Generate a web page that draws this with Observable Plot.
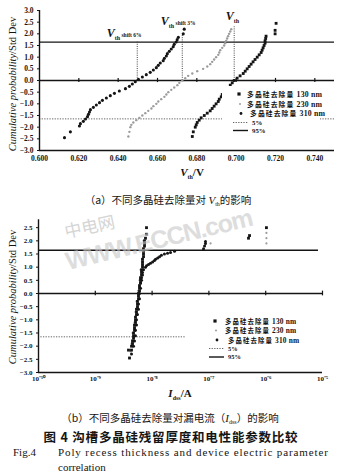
<!DOCTYPE html>
<html><head><meta charset="utf-8">
<script src="https://cdn.jsdelivr.net/npm/d3@7"></script>
<script src="https://cdn.jsdelivr.net/npm/@observablehq/plot@0.6"></script>
<style>
html,body{margin:0;padding:0;background:#fff;}
#root{position:relative;width:340px;height:475px;overflow:hidden;font-family:"Liberation Serif",serif;color:#111;}
#root svg{position:absolute;left:0;}
</style></head><body><div id="root"></div>
<script>
// ---------- DATA ----------
const seriesLabels = ["多晶硅去除量 130 nm", "多晶硅去除量 230 nm", "多晶硅去除量 310 nm"];
const refLabels = ["5%", "95%"];
const refLevels = [-1.645, 1.645];

// Panel (a): Vth (V) vs cumulative probability (Std Dev)
const zA310 = [-2.45,-2.2,-1.95,-1.85,-1.75,-1.65,-1.55,-1.45,-1.35,-1.25,-1.15,-1.05,-0.95,-0.85,-0.75,-0.65,-0.55,-0.45,-0.35,-0.25,-0.15,-0.05,0.05,0.15,0.25,0.35,0.45,0.55,0.65,0.75,0.85,0.95,1.05,1.15,1.25,1.35,1.45,1.55,1.65,1.75,1.85,2.0,2.2];
const vA310 = [0.6127,0.6157,0.6203,0.6208,0.6223,0.6234,0.6244,0.6249,0.6254,0.6259,0.6274,0.6289,0.6305,0.6320,0.6340,0.6360,0.6381,0.6406,0.6437,0.6457,0.6472,0.6487,0.6503,0.6523,0.6543,0.6563,0.6579,0.6594,0.6604,0.6614,0.6629,0.6635,0.6645,0.6650,0.6660,0.6670,0.6680,0.6685,0.6695,0.6700,0.6706,0.6731,0.6736];

const zA230 = [-2.4,-2.2,-2.0,-1.9,-1.8,-1.7,-1.6,-1.5,-1.4,-1.3,-1.2,-1.1,-1.0,-0.9,-0.8,-0.7,-0.6,-0.5,-0.4,-0.3,-0.2,-0.1,0,0.1,0.2,0.3,0.4,0.5,0.6,0.7,0.8,0.9,1.0,1.1,1.2,1.3,1.4,1.5,1.6,1.7,1.8,1.9,2.0,2.1,2.2];
const vA230 = [0.6452,0.6457,0.6462,0.6467,0.6477,0.6492,0.6508,0.6523,0.6538,0.6553,0.6569,0.6579,0.6594,0.6604,0.6619,0.6635,0.6645,0.6655,0.6670,0.6685,0.6701,0.6711,0.6726,0.6741,0.6756,0.6777,0.6802,0.6832,0.6853,0.6868,0.6878,0.6888,0.6898,0.6909,0.6914,0.6919,0.6929,0.6939,0.6944,0.6949,0.6954,0.6959,0.6964,0.6970,0.6975];

const zA130 = [-2.4,-2.2,-2.0,-1.9,-1.8,-1.7,-1.6,-1.5,-1.4,-1.3,-1.2,-1.1,-1.0,-0.9,-0.8,-0.7,-0.6,-0.5,-0.4,-0.3,-0.2,-0.1,0,0.1,0.2,0.3,0.4,0.5,0.6,0.7,0.8,0.9,1.0,1.1,1.2,1.3,1.4,1.5,1.6,1.7,1.8,1.9,2.0,2.15,2.45];
const vA130 = [0.6777,0.6782,0.6792,0.6797,0.6802,0.6812,0.6822,0.6838,0.6853,0.6868,0.6878,0.6888,0.6898,0.6909,0.6914,0.6924,0.6929,0.6939,0.6949,0.6959,0.6970,0.6980,0.6990,0.7005,0.7020,0.7036,0.7046,0.7056,0.7066,0.7076,0.7086,0.7096,0.7107,0.7117,0.7127,0.7132,0.7137,0.7142,0.7147,0.7147,0.7150,0.7152,0.7198,0.7198,0.7203];

// Vth markers (dotted drop lines) and their labels
const vthValues = [0.6497, 0.6726, 0.6990];
const vthTops = [1.645, 2.0, 2.3];
const vthSubs = ["th  shift 6%", "th  shift 3%", "th"];

const xTicksA = [0.60,0.62,0.64,0.66,0.68,0.70,0.72,0.74];
const yTicks = [-3,-2.5,-2,-1.5,-1,-0.5,0,0.5,1,1.5,2,2.5,3];

// Panel (b): Idss (A) vs cumulative probability
const zB130 = [-2.45,-2.15,-2.15,-2.0,-1.9,-1.8,-1.7,-1.6,-1.5,-1.4,-1.3,-1.2,-1.1,-1.0,-0.9,-0.8,-0.7,-0.6,-0.5,-0.4,-0.3,-0.2,-0.1,0,0.1,0.2,0.3,0.4,0.5,0.6,0.7,0.8,0.9,1.0,1.1,1.2,1.3,1.4,1.5,1.6,1.7,1.8,1.9,2.0,2.1,2.25,2.5,2.1,2.2,2.5];
const iB130 = [4.00e-9,3.84e-9,4.34e-9,4.34e-9,4.52e-9,4.52e-9,4.71e-9,4.71e-9,4.71e-9,4.90e-9,4.90e-9,4.90e-9,5.10e-9,5.10e-9,5.10e-9,5.31e-9,5.31e-9,5.31e-9,5.53e-9,5.53e-9,5.53e-9,5.76e-9,5.76e-9,5.76e-9,6.00e-9,6.00e-9,6.00e-9,6.25e-9,6.25e-9,6.25e-9,6.51e-9,6.51e-9,6.51e-9,6.78e-9,6.78e-9,6.78e-9,6.78e-9,7.06e-9,7.06e-9,7.06e-9,7.06e-9,7.35e-9,7.35e-9,7.35e-9,7.65e-9,7.97e-9,7.97e-9,4.98e-7,5.19e-7,1.03e-6];

const zB230 = [-2.2,-1.9,-1.5,-1.1,-0.7,-0.3,0.1,0.5,0.9,1.3,1.7,2.0,1.9,1.9,2.1,2.3];
const iB230 = [4.17e-9,4.34e-9,4.52e-9,4.90e-9,5.10e-9,5.31e-9,5.65e-9,6.00e-9,6.25e-9,6.64e-9,6.92e-9,7.06e-9,1.07e-7,1.03e-6,1.03e-6,1.03e-6];

const zB310 = [-2.3,-2.0,-1.8,-1.6,-1.4,-1.2,-1.0,-0.8,-0.6,-0.4,-0.2,0,0.2,0.4,0.5,0.6,0.7,0.8,0.9,1.0,1.05,1.1,1.15,1.2,1.25,1.3,1.35,1.4,1.45,1.5,1.53,1.56,1.6,1.7,1.8,1.9,1.97];
const iB310 = [4.34e-9,4.71e-9,4.90e-9,5.10e-9,5.10e-9,5.31e-9,5.31e-9,5.53e-9,5.76e-9,5.76e-9,6.00e-9,6.00e-9,6.25e-9,6.25e-9,6.51e-9,6.51e-9,6.78e-9,6.78e-9,7.06e-9,7.65e-9,7.97e-9,8.64e-9,9.37e-9,1.02e-8,1.10e-8,1.15e-8,1.25e-8,1.35e-8,1.46e-8,1.65e-8,1.87e-8,2.11e-8,2.48e-8,8.04e-8,8.38e-8,8.71e-8,8.71e-8];

const xTicksB = [1e-10,1e-9,1e-8,1e-7,1e-6,1e-5];
const yTicksB = [-3,-2.5,-2,-1.5,-1,-0.5,0,0.5,1,1.5,2,2.5];
const fivePctEndB = 3.9e-8;   // 5% line extent in panel (b)

const titleY = ["Cumulative probability", "/Std Dev"];
const captionA = ["（a）不同多晶硅去除量对 ", "V", "th", "的影响"];
const captionB = ["（b）不同多晶硅去除量对漏电流（", "I", "dss", "）的影响"];
const figTitleCN = "图 4   沟槽多晶硅残留厚度和电性能参数比较";
const figTitleEN1 = ["Fig.4", "Poly recess thickness and device electric parameter"];
const figTitleEN2 = "correlation";
const watermark = ["中电网", "WWW.ECCN.com"];

// ---------- BUILD ----------
const zip = (zs, xs, key) => zs.map((z, i) => ({z, [key]: xs[i]}));
const a310 = zip(zA310, vA310, "v"), a230 = zip(zA230, vA230, "v"), a130 = zip(zA130, vA130, "v");
const b310 = zip(zB310, iB310, "i"), b230 = zip(zB230, iB230, "i"), b130 = zip(zB130, iB130, "i");
const vthMarkers = vthValues.map((v, i) => ({v, top: vthTops[i], sub: vthSubs[i]}));

const INK = "#141414";
const root = document.getElementById("root");
const axisStyle = {fontFamily: "'Liberation Serif', serif", fontSize: "7.5px", fontWeight: "bold", color: INK, background: "transparent", overflow: "visible"};

const plotA = Plot.plot({
  width: 340, height: 180, marginTop: 10, marginBottom: 30, marginLeft: 39, marginRight: 6,
  style: axisStyle,
  x: {domain: [0.6, 0.75], ticks: xTicksA, tickFormat: d3.format(".3f"), tickSize: 0, tickPadding: 5, label: null},
  y: {domain: [-3, 3], ticks: yTicks, tickFormat: d3.format(".1f"), tickSize: 2, tickPadding: 4, label: null},
  marks: [
    Plot.ruleY([refLevels[0]], {stroke: "#666", strokeWidth: 1, strokeDasharray: "1.3,1.3"}),
    Plot.ruleY([0], {stroke: INK, strokeWidth: 1.4}),
    Plot.ruleX(xTicksA.slice(1), {x: d => d, y1: -0.09, y2: 0.09, stroke: INK, strokeWidth: 1.2}),
    Plot.ruleY([refLevels[1]], {stroke: INK, strokeWidth: 1.4}),
    Plot.ruleX(vthMarkers, {x: "v", y1: 0, y2: "top", stroke: "#444", strokeWidth: 1, strokeDasharray: "1,1.2"}),
    Plot.ruleX([0.6], {stroke: INK, strokeWidth: 1.4}),
    Plot.ruleY([-3], {stroke: INK, strokeWidth: 1.4}),
    Plot.dot(a230, {x: "v", y: "z", r: 1.2, fill: "#9c9c9c", stroke: null}),
    Plot.dot(a310, {x: "v", y: "z", r: 1.55, fill: INK, stroke: null}),
    Plot.dot(a130, {x: "v", y: "z", r: 1.6, symbol: "square", fill: INK, stroke: null})
  ]
});
plotA.style.top = "0px";
root.appendChild(plotA);

const sup = {"-": "⁻", "0": "⁰", "1": "¹", "2": "²", "3": "³", "4": "⁴", "5": "⁵", "6": "⁶", "7": "⁷", "8": "⁸", "9": "⁹"};
const supFmt = d => "10" + String(Math.round(Math.log10(d))).split("").map(c => sup[c]).join("");

const plotB = Plot.plot({
  width: 340, height: 190, marginTop: 14, marginBottom: 18, marginLeft: 38, marginRight: 18,
  style: {...axisStyle, fontSize: "7px"},
  x: {type: "log", domain: [1e-10, 1e-5], ticks: xTicksB, tickFormat: supFmt, tickSize: 0, tickPadding: 4, label: null},
  y: {domain: [-3, 3], ticks: yTicksB, tickFormat: d3.format(".1f"), tickSize: 2, tickPadding: 4, label: null},
  marks: [
    Plot.ruleY([refLevels[0]], {x1: 1.1e-10, x2: fivePctEndB, stroke: "#666", strokeWidth: 1, strokeDasharray: "1.3,1.3"}),
    Plot.ruleY([0], {stroke: INK, strokeWidth: 1.4}),
    Plot.ruleX(xTicksB.slice(1), {x: d => d, y1: -0.09, y2: 0.09, stroke: INK, strokeWidth: 1.2}),
    Plot.ruleY([refLevels[1]], {x1: 1e-10, x2: 8.5e-6, stroke: INK, strokeWidth: 1.4}),
    Plot.ruleX([1e-10], {y1: -3, y2: 2.8, stroke: INK, strokeWidth: 1.4}),
    Plot.ruleY([-3], {stroke: INK, strokeWidth: 1.4}),
    Plot.dot(b230, {x: "i", y: "z", r: 1.1, fill: "#9c9c9c", stroke: null}),
    Plot.dot(b310, {x: "i", y: "z", r: 1.5, fill: INK, stroke: null}),
    Plot.dot(b130, {x: "i", y: "z", r: 1.6, symbol: "square", fill: INK, stroke: null})
  ]
});
plotB.style.top = "200px";
root.appendChild(plotB);

// ---------- OVERLAY (titles, legends, annotations, captions) ----------
const ov = d3.select(root).append("svg").attr("width", 340).attr("height", 475).style("top", "0px");
const SERIF = "'Liberation Serif', serif";
const CJK = "'Noto Sans CJK SC', sans-serif";

function rich(parent, x, y, parts, attrs = {}) {
  const t = parent.append("text").attr("x", x).attr("y", y).attr("fill", INK);
  for (const [k, v] of Object.entries(attrs)) t.attr(k, v);
  let shift = 0;
  for (const p of parts) {
    const s = t.append("tspan").text(p.t);
    if (p.size) s.attr("font-size", p.size);
    if (p.italic) s.attr("font-style", "italic");
    if (p.weight) s.attr("font-weight", p.weight);
    if (p.family) s.attr("font-family", p.family);
    if (p.ls !== undefined) s.attr("letter-spacing", p.ls);
    const target = p.sub || 0;
    if (target !== shift) { s.attr("dy", target - shift); shift = target; }
  }
  return t;
}

// y-axis titles
[[16, 84], [16, 297]].forEach(([x, y]) => {
  rich(ov, 0, 0, [{t: titleY[0], italic: true}, {t: titleY[1]}],
    {"font-family": SERIF, "font-size": 10.5, "text-anchor": "middle", transform: `translate(${x},${y}) rotate(-90)`});
});

// x-axis titles
rich(ov, 192, 176, [{t: "V", italic: true, weight: "bold", size: 11}, {t: "th", size: 6, weight: "bold", sub: 2.5}, {t: "/V", size: 11, weight: "bold", sub: 0}],
  {"font-family": SERIF, "text-anchor": "middle"});
rich(ov, 180, 397, [{t: "I", italic: true, weight: "bold", size: 11}, {t: "dss", size: 6, weight: "bold", sub: 2.5}, {t: "/A", size: 11, weight: "bold", sub: 0}],
  {"font-family": SERIF, "text-anchor": "middle"});

// Vth annotations (placed from the x scale)
const sxA = plotA.scale("x");
const vthLabelOffsets = [[-30, 37], [-21, 25], [-8, 20]];
vthMarkers.forEach((m, i) => {
  const [dx, by] = vthLabelOffsets[i];
  const [th, ...rest] = m.sub.split("  ");
  const parts = [{t: "V", italic: true, weight: "bold", size: 12}, {t: th, size: 6, weight: "bold", sub: 2.5}];
  if (rest.length) parts.push({t: " " + rest.join(" "), size: 5.5, weight: "bold"});
  rich(ov, sxA.apply(m.v) + dx, by, parts, {"font-family": SERIF});
});

// Legends
function legend(x0, box, rowsY, textX, size) {
  const g = ov.append("g");
  g.append("rect").attr("x", box[0]).attr("y", box[1]).attr("width", box[2]).attr("height", box[3]).attr("fill", "#fff");
  g.append("rect").attr("x", x0 - 1.6).attr("y", rowsY[0] - 1.6).attr("width", 3.2).attr("height", 3.2).attr("fill", INK);
  g.append("circle").attr("cx", x0 + 1).attr("cy", rowsY[1]).attr("r", 1).attr("fill", "#9c9c9c");
  g.append("circle").attr("cx", x0 + 2).attr("cy", rowsY[2]).attr("r", 1.4).attr("fill", INK);
  g.append("line").attr("x1", x0 - 6).attr("x2", x0 + 9).attr("y1", rowsY[3]).attr("y2", rowsY[3]).attr("stroke", "#666").attr("stroke-dasharray", "1.3,1.3");
  g.append("line").attr("x1", x0 - 6).attr("x2", x0 + 9).attr("y1", rowsY[4]).attr("y2", rowsY[4]).attr("stroke", INK).attr("stroke-width", 1.4);
  seriesLabels.forEach((s, i) => {
    const [cn, ...num] = s.split(" ");
    rich(g, textX[i], rowsY[i] + 2.5, [{t: cn, family: CJK, weight: "bold", ls: 1.1}, {t: " " + num.join(" "), family: SERIF, weight: "bold", size: size + 1, ls: 0.2}],
      {"font-size": size});
  });
  refLabels.forEach((s, i) => {
    rich(g, textX[3], rowsY[3 + i] + 2.3, [{t: s}], {"font-family": SERIF, "font-weight": "bold", "font-size": size});
  });
}
legend(239, [222, 86, 98, 49], [94, 104, 113.5, 122.5, 130.5], [247, 247, 250, 252], 6.8);
legend(215, [203, 314, 100, 49], [321, 330.5, 340, 348.5, 357], [225, 225, 228, 228], 6.4);

// Captions
rich(ov, 168, 204, [{t: captionA[0], family: CJK}, {t: captionA[1], italic: true, family: SERIF, size: 11}, {t: captionA[2], family: SERIF, size: 6, sub: 2}, {t: captionA[3], family: CJK, sub: 0}],
  {"font-size": 10.5, "text-anchor": "middle"});
rich(ov, 170, 422, [{t: captionB[0], family: CJK}, {t: captionB[1], italic: true, family: SERIF, size: 11}, {t: captionB[2], family: SERIF, size: 6, sub: 2}, {t: captionB[3], family: CJK, sub: 0}],
  {"font-size": 10.5, "text-anchor": "middle"});
rich(ov, 171, 442, [{t: figTitleCN}], {"font-family": CJK, "font-size": 12.5, "font-weight": "bold", "text-anchor": "middle", "letter-spacing": 0.8});
rich(ov, 13, 456, [{t: figTitleEN1[0]}], {"font-family": SERIF, "font-size": 11});
rich(ov, 58, 456, [{t: figTitleEN1[1]}], {"font-family": SERIF, "font-size": 11, textLength: 270});
rich(ov, 58, 471, [{t: figTitleEN2}], {"font-family": SERIF, "font-size": 11});

// Watermark
ov.append("text").attr("x", 0).attr("y", 0).attr("transform", "translate(66,238) rotate(-12)")
  .attr("font-family", CJK).attr("font-size", 17).attr("fill", "#c4c4c4").attr("opacity", 0.7).text(watermark[0]);
ov.append("text").attr("x", 0).attr("y", 0).attr("transform", "translate(68,270) rotate(-13.5)")
  .attr("font-family", "'Liberation Sans', sans-serif").attr("font-weight", "bold").attr("font-size", 25)
  .attr("textLength", 192).attr("fill", "#c8c8c8").attr("opacity", 0.6).text(watermark[1]);
</script></body></html>
